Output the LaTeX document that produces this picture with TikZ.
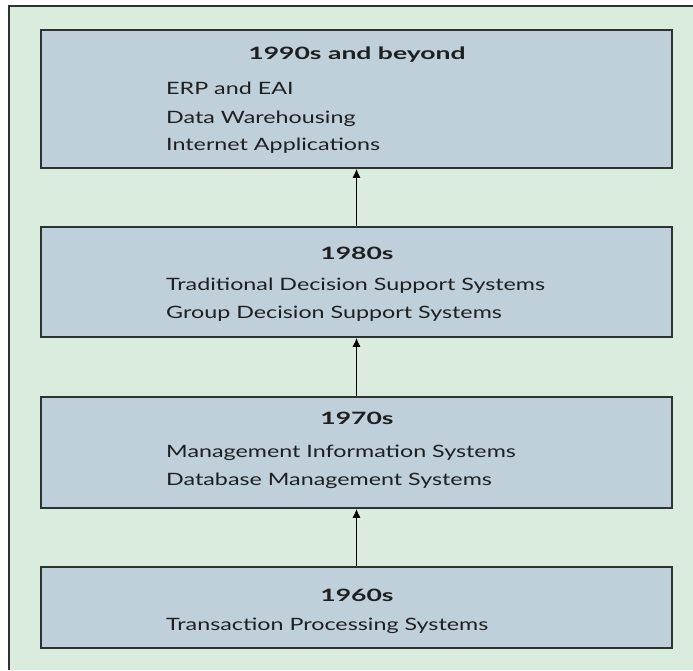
\documentclass[tikz,border=0pt]{standalone}
\usepackage{fontspec}
\setmainfont{Lato}[FakeStretch=1.37, BoldFeatures={FakeStretch=1.56}]
\usetikzlibrary{arrows, arrows.meta}
\definecolor{panelgreen}{HTML}{D9ECDD}
\definecolor{boxblue}{HTML}{BFD0DA}
\definecolor{edgegray}{HTML}{2E3233}
\definecolor{inkgray}{HTML}{1E1F20}
\tikzstyle{era} = [rectangle, minimum width=631pt, inner sep=0pt, draw=edgegray, fill=boxblue, line width=1.6pt]
\tikzstyle{decade} = [anchor=base, inner sep=0pt, text=inkgray, font=\fontsize{17}{20}\selectfont\bfseries]
\tikzstyle{system} = [anchor=base west, inner sep=0pt, text=inkgray, font=\fontsize{17}{20}\selectfont]
\tikzstyle{arrow} = [line width=1.3pt,-{Latex[length=9pt, width=8pt]}]

\begin{document}
\begin{tikzpicture}[x=1pt, y=-1pt]
    \useasboundingbox (0,0) rectangle (693,670);
    % panel
    \fill[white] (0,0) rectangle (693,670);
    \fill[panelgreen] (9,6) rectangle (693,670);
    \draw[line width=1.8pt, edgegray] (9,670) -- (9,6) -- (693,6);

    \node (nineties) [era, minimum height=138pt] at (356.5,99) {};
    \node (eighties) [era, minimum height=110pt] at (356.5,282) {};
    \node (seventies) [era, minimum height=111pt] at (356.5,452.5) {};
    \node (sixties) [era, minimum height=81pt] at (356.5,607.5) {};

    \node (t90) [decade] at (357,59) {1990s and beyond};
    \node (erp) [system] at (166,94) {ERP and EAI};
    \node (dw) [system] at (166,123) {Data Warehousing};
    \node (inet) [system] at (166,150) {Internet Applications};

    \node (t80) [decade] at (357,259) {1980s};
    \node (dss) [system] at (166,290) {Traditional Decision Support Systems};
    \node (gdss) [system] at (166,318) {Group Decision Support Systems};

    \node (t70) [decade] at (357,424) {1970s};
    \node (mis) [system] at (166,457) {Management Information Systems};
    \node (dbms) [system] at (166,485) {Database Management Systems};

    \node (t60) [decade] at (357,601) {1960s};
    \node (tps) [system] at (166,630) {Transaction Processing Systems};

    \draw [arrow] (sixties) -- (seventies);
    \draw [arrow] (seventies) -- (eighties);
    \draw [arrow] (eighties) -- (nineties);

\end{tikzpicture}
\end{document}
